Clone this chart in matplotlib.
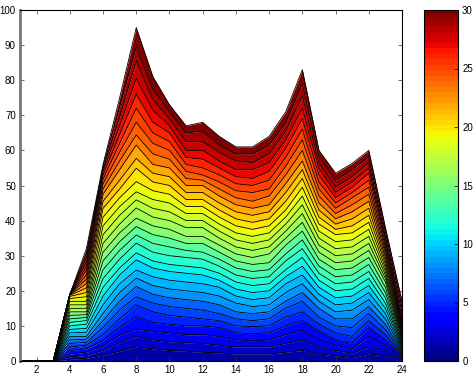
import numpy as np
import matplotlib
matplotlib.use("Agg")
import matplotlib.pyplot as plt
from matplotlib.colors import Normalize
from matplotlib.cm import ScalarMappable

plt.rcParams['font.family'] = ['Liberation Sans', 'DejaVu Sans']
plt.rcParams['font.size'] = 7

# --- DATA: cumulative top of each of the 30 stacked layers, one list per x ---
x_vals = list(range(1, 25))

top_x01 = [0] * 30
top_x02 = [0] * 30
top_x03 = [0] * 30
top_x04 = [0.5, 1.2, 2.0, 3.0, 4.0, 5.0, 6.0, 7.0, 8.0, 9.0, 10.0, 11.0, 12.0, 13.0, 14.0,
           15.0, 16.0, 17.0, 17.8, 18.4, 18.7, 18.9, 19.0, 19.0, 19.0, 19.0, 19.0, 19.0, 19.0, 19.0]
top_x05 = [0.8, 1.6, 2.5, 3.5, 4.5, 5.3, 6.2, 7.0, 8.2, 9.3, 10.5, 11.5, 12.4, 13.2, 14.0,
           15.0, 16.0, 17.0, 18.3, 19.5, 20.8, 22.0, 23.3, 24.5, 25.8, 27.0, 28.3, 29.5, 30.8, 32.0]
top_x06 = [1.7, 3.0, 4.3, 5.8, 7.5, 9.5, 11.5, 13.5, 16.0, 18.5, 21.0, 23.5, 26.0, 28.5, 31.0,
           33.5, 36.0, 38.5, 41.0, 43.5, 45.5, 47.5, 49.0, 50.5, 51.8, 53.0, 54.0, 54.8, 55.5, 56.0]
top_x07 = [2.8, 5.2, 7.3, 9.5, 12.0, 14.5, 17.0, 19.5, 22.0, 24.5, 26.5, 29.0, 31.5, 34.0, 36.5,
           39.0, 41.5, 44.0, 46.5, 49.0, 51.5, 54.5, 57.0, 59.5, 62.0, 64.5, 67.0, 69.5, 72.5, 75.0]
top_x08 = [4.0, 7.0, 9.0, 12.6, 16.0, 18.3, 21.2, 23.6, 25.9, 28.8, 30.8, 33.6, 35.9, 38.3, 40.7,
           43.6, 45.9, 48.2, 51.1, 54.9, 57.7, 61.5, 64.4, 68.0, 72.0, 76.0, 80.5, 85.5, 89.5, 95.0]
top_x09 = [3.5, 6.0, 8.5, 11.0, 14.0, 16.5, 19.0, 21.5, 24.0, 26.5, 28.5, 31.0, 33.5, 36.0, 38.5,
           41.0, 43.5, 46.0, 48.5, 51.0, 53.5, 56.0, 59.0, 62.0, 65.0, 68.0, 71.5, 74.5, 77.5, 81.0]
top_x10 = [3.0, 5.5, 8.0, 10.5, 13.0, 15.5, 18.0, 20.5, 23.0, 25.5, 27.5, 30.0, 32.5, 35.0, 37.5,
           40.0, 42.5, 45.0, 47.5, 50.0, 52.5, 55.0, 57.5, 60.0, 62.5, 65.0, 67.0, 69.0, 71.0, 73.0]
top_x11 = [2.8, 5.2, 7.5, 10.0, 12.5, 15.0, 17.5, 20.0, 22.5, 25.0, 27.0, 29.5, 31.5, 33.5, 35.5,
           38.0, 40.0, 42.0, 44.0, 46.0, 48.0, 50.0, 52.0, 54.0, 56.0, 58.0, 60.0, 62.5, 65.0, 67.0]
top_x12 = [2.5, 5.0, 7.5, 10.0, 12.0, 14.5, 17.0, 19.5, 22.0, 24.5, 26.5, 29.0, 31.0, 33.5, 35.5,
           38.0, 40.0, 42.0, 44.0, 46.0, 48.0, 50.0, 51.5, 53.0, 55.0, 57.5, 60.0, 62.5, 65.5, 68.0]
top_x13 = [2.3, 4.5, 7.0, 9.5, 11.5, 13.5, 16.0, 18.5, 21.0, 23.0, 25.0, 27.0, 29.0, 31.0, 33.0,
           35.0, 37.0, 39.0, 41.0, 43.0, 45.0, 47.0, 49.0, 51.0, 53.0, 55.0, 57.0, 59.5, 61.5, 64.0]
top_x14 = [2.0, 4.0, 6.0, 8.0, 10.0, 12.0, 14.0, 16.5, 18.5, 20.5, 22.5, 24.5, 26.5, 28.5, 30.5,
           32.5, 34.5, 36.5, 38.5, 40.5, 42.5, 44.5, 46.5, 48.5, 50.5, 52.5, 54.5, 57.0, 59.0, 61.0]
top_x15 = [2.0, 4.0, 5.8, 7.8, 9.8, 11.5, 13.5, 15.5, 17.5, 19.5, 21.5, 23.5, 25.5, 27.5, 29.5,
           31.5, 33.5, 35.5, 37.5, 39.5, 41.5, 43.5, 45.5, 48.0, 50.0, 52.0, 54.5, 56.5, 59.0, 61.0]
top_x16 = [2.0, 4.0, 6.0, 8.0, 10.0, 12.0, 14.0, 16.0, 18.0, 20.0, 22.0, 24.0, 26.0, 28.0, 30.5,
           32.5, 34.5, 36.5, 38.5, 40.5, 42.5, 44.5, 47.0, 49.0, 51.5, 54.0, 56.5, 59.0, 61.5, 64.0]
top_x17 = [2.5, 5.0, 7.5, 10.0, 12.5, 15.0, 17.0, 19.5, 22.0, 24.0, 26.0, 28.5, 30.5, 33.0, 35.0,
           37.0, 39.0, 41.0, 43.0, 45.5, 48.0, 50.5, 53.0, 55.5, 58.0, 60.5, 63.0, 65.5, 68.0, 71.0]
top_x18 = [3.0, 6.0, 8.8, 11.5, 14.0, 17.0, 19.5, 22.0, 24.5, 27.0, 29.5, 32.0, 34.5, 37.0, 39.5,
           42.0, 44.5, 47.0, 49.5, 52.0, 54.5, 57.0, 60.0, 63.0, 66.0, 69.0, 72.0, 75.5, 79.0, 83.0]
top_x19 = [2.0, 4.0, 6.0, 8.5, 10.5, 12.5, 15.0, 17.0, 19.0, 21.0, 23.0, 25.0, 27.0, 29.0, 31.0,
           33.0, 35.0, 37.0, 39.0, 41.0, 43.0, 45.0, 47.0, 49.0, 51.0, 53.0, 55.0, 56.5, 58.3, 60.0]
top_x20 = [1.5, 3.0, 4.5, 6.0, 8.0, 10.0, 12.0, 14.0, 16.0, 18.0, 20.0, 22.0, 24.0, 26.0, 28.0,
           30.0, 32.0, 34.0, 36.0, 37.5, 39.0, 40.5, 42.0, 43.5, 45.0, 46.5, 48.0, 49.5, 51.5, 53.5]
top_x21 = [1.0, 2.2, 3.5, 5.0, 7.0, 9.5, 12.0, 14.5, 16.5, 18.5, 20.5, 22.5, 24.5, 26.5, 28.5,
           30.5, 32.5, 34.5, 36.5, 38.5, 40.5, 42.5, 44.5, 46.5, 48.0, 49.5, 51.0, 52.5, 54.5, 56.3]
top_x22 = [2.0, 4.0, 7.0, 9.5, 11.5, 13.5, 15.5, 17.5, 19.5, 21.5, 23.5, 25.5, 27.5, 29.5, 31.5,
           33.5, 35.5, 37.5, 39.5, 41.5, 43.5, 45.5, 47.5, 49.5, 51.5, 53.5, 55.0, 56.5, 58.2, 60.0]
top_x23 = [1.5, 3.0, 4.5, 6.0, 7.5, 9.0, 10.5, 12.0, 13.5, 15.0, 16.5, 18.0, 19.5, 21.0, 22.5,
           23.5, 24.5, 25.5, 26.5, 27.5, 28.5, 29.5, 30.5, 31.5, 32.5, 33.5, 34.5, 35.5, 36.8, 38.0]
top_x24 = [0.3, 0.6, 1.0, 1.4, 1.8, 2.2, 2.6, 3.0, 3.4, 3.8, 4.2, 4.6, 5.0, 5.5, 6.0,
           6.5, 7.0, 7.5, 8.0, 8.5, 9.0, 9.5, 10.0, 10.5, 11.0, 11.7, 12.5, 13.8, 15.4, 17.0]

x_ticks = list(range(2, 25, 2))
y_ticks = list(range(0, 101, 10))
cbar_ticks = [0, 5, 10, 15, 20, 25, 30]

tops = np.array([top_x01, top_x02, top_x03, top_x04, top_x05, top_x06, top_x07, top_x08,
                 top_x09, top_x10, top_x11, top_x12, top_x13, top_x14, top_x15, top_x16,
                 top_x17, top_x18, top_x19, top_x20, top_x21, top_x22, top_x23, top_x24]).T
n_layers = tops.shape[0]
bounds = np.vstack([np.zeros(len(x_vals)), tops])

cmap = plt.get_cmap('jet', 64)

fig = plt.figure(figsize=(4.75, 3.76), dpi=100)
ax = fig.add_axes([20 / 475, 15 / 376, 382 / 475, 351 / 376])
cax = fig.add_axes([424 / 475, 15 / 376, 34 / 475, 351 / 376])

for i in range(n_layers):
    ax.fill_between(x_vals, bounds[i], bounds[i + 1], color=cmap((i + 1) / n_layers),
                    linewidth=0, zorder=1)
for i in range(n_layers + 1):
    ax.plot(x_vals, bounds[i], color='black', lw=0.6, zorder=2)

ax.set_xlim(1, 24)
ax.set_ylim(0, 100)
ax.set_xticks(x_ticks)
ax.set_yticks(y_ticks)
ax.tick_params(direction='in', length=3, width=0.5, top=True, right=True,
               labelsize=7, pad=3, colors='#333333', labelcolor='black')
for side in ['top', 'right', 'bottom']:
    ax.spines[side].set_linewidth(0.8)
ax.spines['left'].set_color('#777777')
ax.spines['left'].set_linewidth(2)

sm = ScalarMappable(norm=Normalize(0, 30), cmap=cmap)
cb = fig.colorbar(sm, cax=cax, ticks=cbar_ticks)
cb.outline.set_linewidth(0.8)
cax.tick_params(direction='in', length=3, width=0.5, labelsize=7, pad=3)

fig.savefig('out.png', dpi=100)
